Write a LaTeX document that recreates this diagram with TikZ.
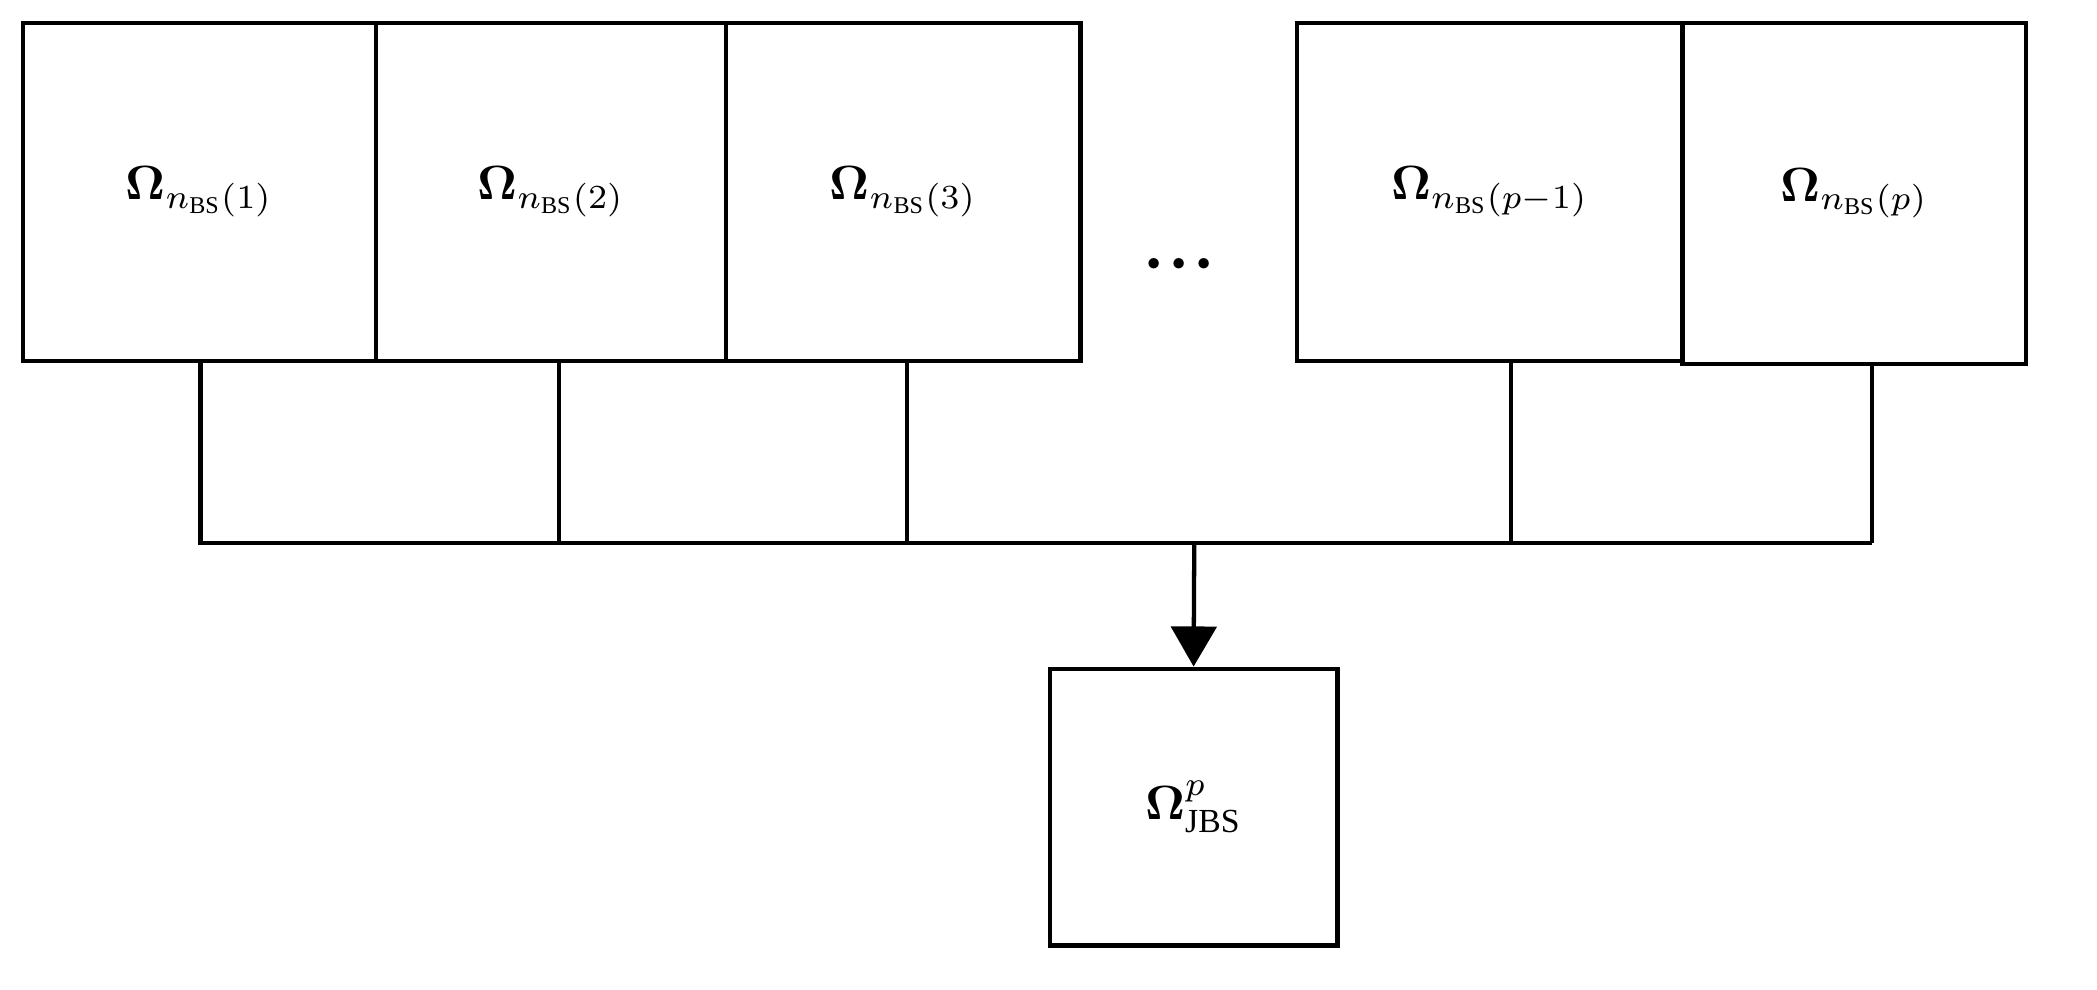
\documentclass[tikz,border=0pt]{standalone}
\usepackage{amsmath,bm,graphicx}
\usepackage{fontspec}
\setmainfont{Liberation Serif}
\usetikzlibrary{arrows.meta}
\begin{document}
\begin{tikzpicture}[x=1pt,y=-1pt,
  box/.style={draw,line width=3.2pt,inner sep=0pt},
  ln/.style={line width=3.2pt}]
\useasboundingbox (0,0) rectangle (1568,740);
\newcommand{\om}[1]{\scalebox{3.6}{$\bm{\Omega}_{n_{\mathrm{BS}}(#1)}$}}
\node[box,minimum width=264,minimum height=253] (b1) at (149,143.5) {\om{1}};
\node[box,minimum width=262,minimum height=253] (b2) at (412,143.5) {\om{2}};
\node[box,minimum width=265,minimum height=253] (b3) at (675.5,143.5) {\om{3}};
\node[box,minimum width=288,minimum height=253] (b4) at (1114,143.5) {\om{p-1}};
\node[box,minimum width=257,minimum height=255] (b5) at (1386.5,144.5) {\om{p}};
\node (dots) at (882,198) {\scalebox{5}{$\bm{\cdot\!\cdot\!\cdot}$}};
\node[box,minimum width=215,minimum height=207] (jb) at (892.5,603.5) {\scalebox{3.6}{$\bm{\Omega}^{p}_{\mathrm{JBS}}$}};
\coordinate (h) at (893,406);
\draw[ln] (150,270) |- (h) ;
\draw[ln] (418,270) -- (418,406);
\draw[ln] (678,270) -- (678,406);
\draw[ln] (1130,270) |- (1400,406);
\draw[ln] (1400,272) -- (1400,406);
\draw[ln] (h) -- (1130,406);
\draw[ln,-{Triangle[length=30,width=34]}] (h) -- (jb.north);
\end{tikzpicture}
\end{document}
